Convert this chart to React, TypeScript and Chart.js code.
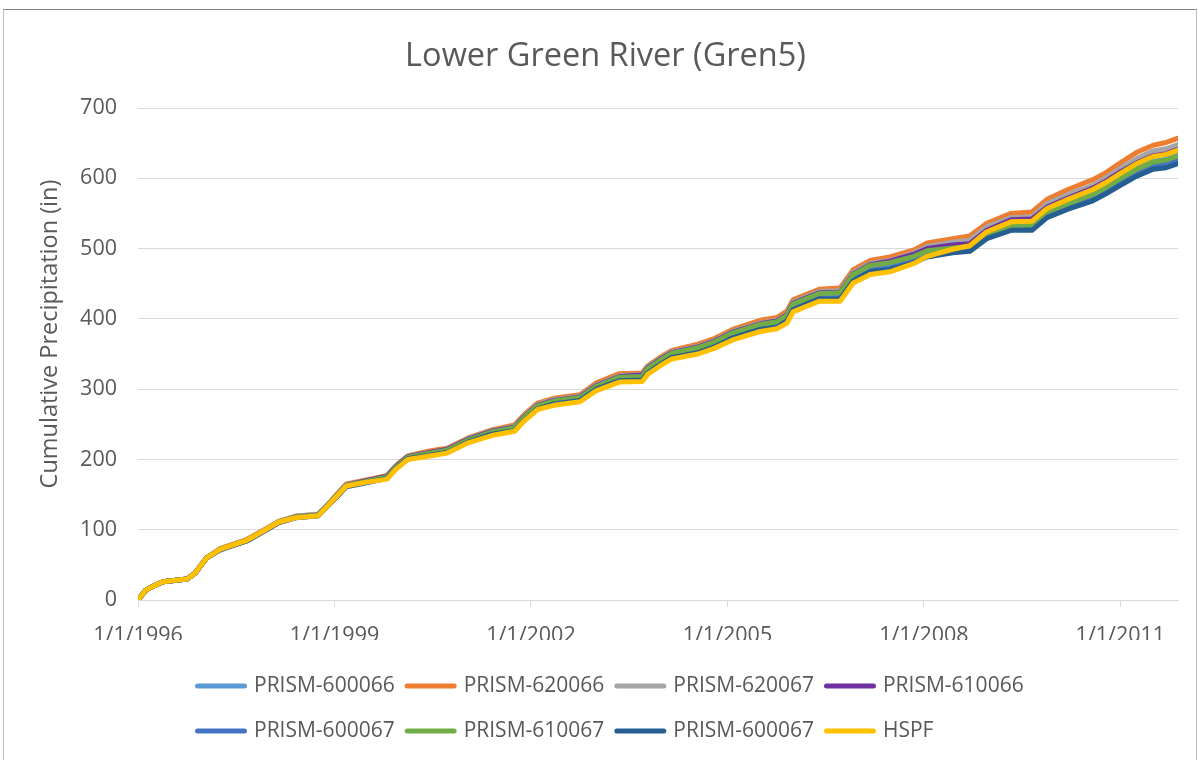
import React, { useEffect, useRef } from "react";
import { Chart, registerables } from "chart.js";

Chart.register(...registerables);

// Decimal-year sample dates (x values)
const years = [
  1996.0, 1996.12, 1996.2, 1996.38, 1996.75, 1996.87, 1997.05, 1997.25, 1997.5, 1997.66,
  1997.95, 1998.15, 1998.4, 1998.75, 1998.9, 1999.05, 1999.18, 1999.45, 1999.8, 1999.95,
  2000.12, 2000.45, 2000.72, 2001.05, 2001.4, 2001.75, 2001.9, 2002.1, 2002.35, 2002.75,
  2003.0, 2003.35, 2003.7, 2003.78, 2003.97, 2004.15, 2004.55, 2004.8, 2005.08, 2005.5,
  2005.76, 2005.91, 2006.0, 2006.4, 2006.72, 2006.92, 2007.18, 2007.48, 2007.85, 2008.05,
  2008.44, 2008.7, 2008.96, 2009.33, 2009.65, 2009.88, 2010.2, 2010.58, 2010.78, 2011.0,
  2011.25, 2011.5, 2011.7, 2011.88,
];

// Cumulative precipitation (in) per series
const prism600066 = [
  0, 14, 18, 26, 30, 38, 60, 72, 80, 85, 100, 111, 118, 121, 134, 149, 162, 167, 174, 189,
  202, 208, 212, 227, 238, 244, 259, 275, 282, 287, 302, 315, 316, 326, 338, 348, 356, 364, 377, 389,
  393, 402, 418, 432, 433, 459, 472, 476, 486, 495, 500, 503, 521, 534, 535, 552, 565, 578, 588, 600,
  614, 624, 627, 633,
];
const prism620066 = [
  0, 14, 18, 26, 30, 38, 60, 73, 81, 86, 101, 112, 119, 122, 136, 152, 165, 170, 177, 192,
  205, 212, 216, 231, 242, 249, 264, 280, 287, 292, 309, 322, 323, 333, 345, 355, 364, 372, 385, 398,
  402, 411, 427, 442, 444, 470, 483, 488, 498, 508, 514, 518, 536, 550, 552, 570, 584, 598, 608, 622,
  637, 647, 651, 657,
];
const prism620067 = [
  0, 14, 18, 26, 30, 38, 60, 72, 80, 85, 100, 112, 119, 122, 136, 151, 164, 169, 176, 191,
  204, 210, 214, 230, 241, 247, 262, 278, 285, 290, 306, 319, 321, 331, 343, 353, 361, 369, 382, 394,
  398, 407, 424, 439, 440, 466, 479, 483, 494, 503, 509, 512, 531, 544, 545, 564, 577, 590, 601, 614,
  628, 639, 642, 648,
];
const prism610066 = [
  0, 14, 18, 26, 30, 38, 60, 72, 80, 85, 100, 111, 118, 121, 135, 150, 163, 169, 176, 191,
  204, 210, 214, 229, 240, 246, 261, 277, 284, 289, 305, 318, 320, 330, 342, 352, 360, 368, 381, 393,
  397, 406, 422, 437, 438, 464, 477, 482, 492, 500, 505, 507, 526, 541, 542, 559, 572, 586, 596, 609,
  622, 632, 635, 641,
];
const prism600067 = [
  0, 14, 18, 26, 30, 38, 60, 72, 79, 84, 99, 110, 117, 120, 134, 149, 162, 167, 173, 188,
  201, 207, 211, 226, 237, 242, 257, 273, 280, 285, 301, 313, 314, 324, 336, 346, 354, 362, 374, 386,
  390, 399, 415, 429, 430, 456, 469, 472, 482, 491, 496, 499, 516, 529, 529, 547, 560, 572, 581, 594,
  608, 617, 620, 626,
];
const prism610067 = [
  0, 14, 18, 26, 30, 38, 60, 72, 80, 85, 100, 111, 118, 121, 135, 150, 163, 168, 175, 190,
  203, 209, 213, 228, 239, 245, 260, 276, 283, 288, 304, 317, 318, 329, 341, 351, 359, 367, 380, 392,
  396, 405, 421, 436, 437, 463, 476, 480, 489, 497, 501, 503, 520, 533, 534, 552, 564, 577, 587, 600,
  613, 623, 626, 632,
];
const prism600067b = [
  0, 14, 18, 26, 30, 38, 60, 71, 79, 84, 99, 110, 117, 120, 134, 148, 161, 166, 173, 188,
  201, 206, 210, 225, 236, 241, 256, 272, 279, 284, 300, 312, 313, 323, 335, 345, 352, 360, 373, 385,
  388, 397, 413, 428, 428, 454, 467, 470, 480, 488, 494, 496, 514, 526, 526, 544, 556, 568, 578, 590,
  603, 613, 615, 621,
];
const hspf = [
  0, 14, 18, 26, 30, 38, 60, 72, 80, 85, 100, 111, 117, 120, 134, 149, 162, 167, 172, 187,
  200, 205, 209, 224, 234, 240, 255, 271, 277, 282, 298, 310, 311, 321, 333, 343, 350, 358, 370, 382,
  386, 394, 410, 425, 425, 451, 463, 467, 479, 489, 499, 504, 524, 538, 539, 557, 570, 584, 594, 607,
  621, 631, 634, 640,
];

const seriesNames = [
  "PRISM-600066",
  "PRISM-620066",
  "PRISM-620067",
  "PRISM-610066",
  "PRISM-600067",
  "PRISM-610067",
  "PRISM-600067",
  "HSPF",
];
const seriesValues = [
  prism600066,
  prism620066,
  prism620067,
  prism610066,
  prism600067,
  prism610067,
  prism600067b,
  hspf,
];
const seriesColors = [
  "#5B9BD5",
  "#ED7D31",
  "#A5A5A5",
  "#7030A0",
  "#4472C4",
  "#70AD47",
  "#255E91",
  "#FFC000",
];

const xTickYears = [1996, 1999, 2002, 2005, 2008, 2011];
const yTicks = [0, 100, 200, 300, 400, 500, 600, 700];

const chartTitle = "Lower Green River (Gren5)";
const yAxisTitle = "Cumulative Precipitation (in)";

const FONT = '"Open Sans", "Noto Sans", sans-serif';
const TEXT = "#595959";
const GRID = "#d9d9d9";

// Title and vertical axis title, placed like the Excel original
const textPlugin = {
  id: "excelTexts",
  afterDraw(chart: any) {
    const ctx = chart.ctx as CanvasRenderingContext2D;
    const area = chart.chartArea;
    ctx.save();
    ctx.fillStyle = TEXT;
    ctx.textAlign = "center";
    ctx.textBaseline = "middle";
    ctx.font = `32.5px ${FONT}`;
    ctx.fillText(chartTitle, chart.width / 2 + 6.5, 57);
    ctx.translate(50, (area.top + area.bottom) / 2 - 20);
    ctx.rotate(-Math.PI / 2);
    ctx.font = `23.5px ${FONT}`;
    ctx.fillText(yAxisTitle, 0, 0);
    ctx.restore();
  },
};

const legendPlugin = {
  id: "gridLegend",
  afterDraw(chart: any) {
    const ctx = chart.ctx as CanvasRenderingContext2D;
    ctx.save();
    ctx.font = `21px ${FONT}`;
    ctx.textBaseline = "middle";
    ctx.textAlign = "left";
    const lineLen = 52;
    const textGap = 7;
    const perRow = 4;
    const widths = seriesNames.map((n) => lineLen + textGap + ctx.measureText(n).width);
    const colW = Math.max(...widths) + 10;
    const total = (perRow - 1) * colW + Math.max(...widths);
    const left = Math.round(chart.width / 2 + 10 - total / 2);
    const rowY = [chart.height - 74, chart.height - 29];
    seriesNames.forEach((name, i) => {
      const row = Math.floor(i / perRow);
      const col = i % perRow;
      const x = left + col * colW;
      const y = rowY[row];
      ctx.strokeStyle = seriesColors[i];
      ctx.lineWidth = 5;
      ctx.lineCap = "round";
      ctx.beginPath();
      ctx.moveTo(x + 2.5, y);
      ctx.lineTo(x + lineLen - 2.5, y);
      ctx.stroke();
      ctx.fillStyle = TEXT;
      ctx.fillText(name, x + lineLen + textGap, y);
    });
    ctx.restore();
  },
};

export default function App() {
  const ref = useRef<HTMLCanvasElement>(null);

  useEffect(() => {
    const canvas = ref.current;
    if (!canvas) return;
    const n = seriesValues.length;
    const datasets = seriesValues.map((vals, i) => ({
      label: seriesNames[i],
      data: years.map((x, j) => ({ x, y: vals[j] })),
      borderColor: seriesColors[i],
      backgroundColor: seriesColors[i],
      borderWidth: 5,
      pointRadius: 0,
      pointHoverRadius: 0,
      tension: 0,
      fill: false,
      borderJoinStyle: "round" as const,
      borderCapStyle: "round" as const,
      order: n - 1 - i,
    }));

    const chart = new Chart(canvas, {
      type: "line",
      data: { datasets },
      options: {
        responsive: false,
        animation: false,
        maintainAspectRatio: false,
        layout: { padding: { left: 10, right: 20, top: 108, bottom: 120 } },
        plugins: {
          legend: { display: false },
          tooltip: { enabled: false },
          title: { display: false },
        },
        scales: {
          x: {
            type: "linear",
            min: 1996,
            max: 2011.88,
            afterBuildTicks: (s: any) => {
              s.ticks = xTickYears.map((v) => ({ value: v }));
            },
            afterFit: (s: any) => {
              s.height = 40;
            },
            ticks: {
              callback: (v: any) => "1/1/" + v,
              color: TEXT,
              font: { family: FONT, size: 21.5 },
              padding: 16,
              maxRotation: 0,
              autoSkip: false,
            },
            grid: {
              drawOnChartArea: false,
              drawTicks: true,
              tickLength: 7,
              color: GRID,
            },
            border: { display: true, color: GRID },
          },
          y: {
            type: "linear",
            min: 0,
            max: 700,
            afterBuildTicks: (s: any) => {
              s.ticks = yTicks.map((v) => ({ value: v }));
            },
            afterFit: (s: any) => {
              s.width = 128;
            },
            ticks: {
              color: TEXT,
              font: { family: FONT, size: 21.5 },
              padding: 21,
            },
            grid: { color: GRID, drawTicks: false, lineWidth: 1 },
            border: { display: false },
          },
        },
      },
      plugins: [textPlugin, legendPlugin],
    });

    if ((document as any).fonts?.load) {
      (document as any).fonts.load(`20px "Open Sans"`).then(() => chart.update()).catch(() => {});
    }

    return () => chart.destroy();
  }, []);

  return (
    <div
      style={{
        position: "fixed",
        left: 0,
        top: 0,
        width: 1198,
        height: 760,
        background: "#ffffff",
        overflow: "hidden",
      }}
    >
      <canvas ref={ref} width={1198} height={760} style={{ display: "block" }} />
      <div
        style={{
          position: "absolute",
          left: 3,
          top: 9,
          width: 1192,
          height: 760,
          borderTop: "1px solid #7f7f7f",
          borderLeft: "1px solid #bfbfbf",
          borderRight: "1px solid #bfbfbf",
          pointerEvents: "none",
        }}
      />
    </div>
  );
}
